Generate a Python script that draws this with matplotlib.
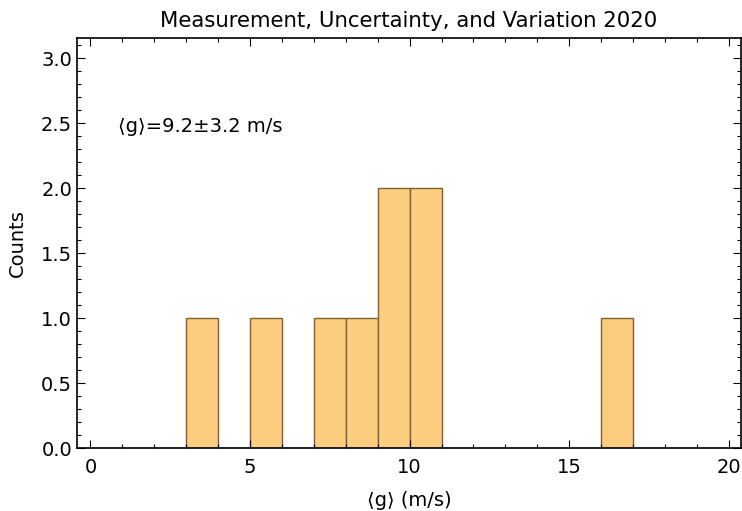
import matplotlib
matplotlib.use("Agg")
import matplotlib.pyplot as plt
from matplotlib.ticker import MultipleLocator
import numpy as np

bin_edges = list(range(0, 21))
counts = [0, 0, 0, 1, 0, 1, 0, 1, 1, 2, 2, 0, 0, 0, 0, 0, 1, 0, 0, 0]
title = "Measurement, Uncertainty, and Variation 2020"
annotation = "⟨g⟩=9.2±3.2 m/s"
xlabel = "⟨g⟩ (m/s)"
ylabel = "Counts"

fig = plt.figure(figsize=(7.42, 5.11), dpi=100)
ax = fig.add_axes([77/742, 1 - 448/511, (741-77)/742, (448-38)/511])

centers = [(a + b) / 2 for a, b in zip(bin_edges[:-1], bin_edges[1:])]
ax.hist(centers, bins=bin_edges, weights=counts, facecolor='#fccd7e',
        edgecolor='#7d6331', linewidth=1.0)

ax.set_xlim(-0.42, 20.38)
ax.set_ylim(0, 3.155)
ax.xaxis.set_major_locator(MultipleLocator(5))
ax.xaxis.set_minor_locator(MultipleLocator(1))
ax.yaxis.set_major_locator(MultipleLocator(0.5))
ax.yaxis.set_minor_locator(MultipleLocator(0.1))
ax.tick_params(which='both', direction='in', top=True, right=True, labelsize=14)
ax.tick_params(which='major', length=6, width=0.8)
ax.tick_params(which='minor', length=3, width=0.8)
ax.tick_params(axis='x', which='both', pad=7)
for s in ax.spines.values():
    s.set_linewidth(1.2)

ax.set_title(title, fontsize=15.3, pad=8)
ax.set_xlabel(xlabel, fontsize=14, labelpad=10)
ax.set_ylabel(ylabel, fontsize=14, labelpad=10)
ax.text(0.062, 0.785, annotation, transform=ax.transAxes, fontsize=14,
        va='center', ha='left')

fig.savefig("out.png", dpi=100)
